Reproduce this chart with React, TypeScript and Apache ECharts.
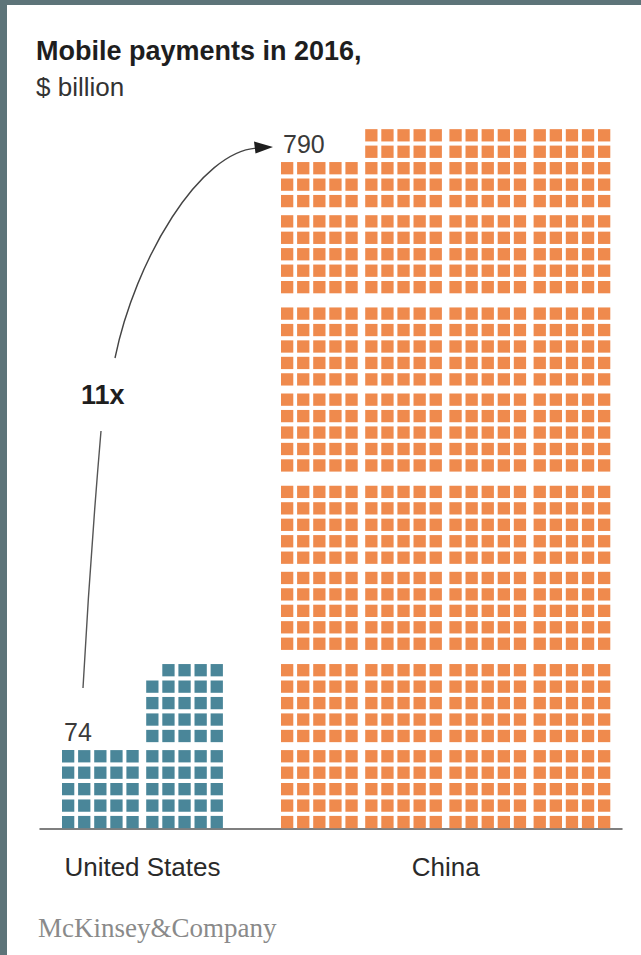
import React, { useEffect, useRef } from "react";
import * as echarts from "echarts";

// ---- data ----
const categories = ["United States", "China"];
const totals = [74, 790];
// units ($ billion) drawn in each 5-wide column of squares, per category
const usColumns = [25, 49];
const chinaColumns = [190, 200, 200, 200];
const columnsByCategory = [usColumns, chinaColumns];
const categoryColors = ["#4A8699", "#EF8A4D"];
const ratioText = "11x";
const titleText = "Mobile payments in 2016,";
const subtitleText = "$ billion";
const sourceText = "McKinsey&Company";

// ---- layout (axis units = px) ----
const CELL = 12.3;
const PX = 16.1;
const PY = 16.45;
const COL_PITCH = 84.2;
const CAT_GAP = 50.6;
const FIRST_START = 22;
const SMALL_GAP = 3.8;
const BIG_GAP = 10;
const FONT = "'Liberation Sans', Arial, Helvetica, sans-serif";

function rowY(r: number) {
  const block = Math.floor(r / 5);
  let extra = 0;
  for (let b = 1; b <= block; b++) extra += b % 2 === 1 ? SMALL_GAP : BIG_GAP;
  return r * PY + extra;
}

function categoryStarts() {
  const starts: number[] = [];
  let x = FIRST_START;
  columnsByCategory.forEach((cols) => {
    starts.push(x);
    x += cols.length * COL_PITCH + CAT_GAP;
  });
  return starts;
}

function buildCells() {
  const starts = categoryStarts();
  const cells: number[][] = [];
  columnsByCategory.forEach((cols, ci) => {
    cols.forEach((n, j) => {
      const x0 = starts[ci] + j * COL_PITCH;
      const full = Math.floor(n / 5);
      const rem = n % 5;
      for (let r = 0; r < full; r++)
        for (let c = 0; c < 5; c++) cells.push([x0 + c * PX, rowY(r), ci]);
      for (let c = 5 - rem; c < 5 && rem > 0; c++) cells.push([x0 + c * PX, rowY(full), ci]);
    });
  });
  return cells;
}

function buildValueLabels() {
  const starts = categoryStarts();
  return columnsByCategory.map((cols, ci) => {
    const n = cols[0];
    const rows = Math.ceil(n / 5);
    return [starts[ci], rowY(rows - 1) + CELL, ci];
  });
}

function buildCategoryLabels() {
  const starts = categoryStarts();
  return columnsByCategory.map((cols, ci) => {
    const width = (cols.length - 1) * COL_PITCH + 4 * PX + CELL;
    return [starts[ci] + width / 2, 0, ci];
  });
}

export default function App() {
  const ref = useRef<HTMLDivElement>(null);
  useEffect(() => {
    if (!ref.current) return;
    const chart = echarts.init(ref.current, undefined, { renderer: "svg" });
    const option: any = {
      animation: false,
      backgroundColor: "#ffffff",
      title: [
        {
          text: titleText,
          subtext: subtitleText,
          left: 36,
          top: 37,
          padding: 0,
          itemGap: 10,
          textStyle: { fontFamily: FONT, fontSize: 27, fontWeight: "bold", color: "#1e1e1e" },
          subtextStyle: { fontFamily: FONT, fontSize: 26, color: "#333333" },
        },
        {
          text: sourceText,
          left: 38,
          top: 914,
          padding: 0,
          textStyle: {
            fontFamily: "'Liberation Serif', 'DejaVu Serif', serif",
            fontSize: 27,
            fontWeight: "normal",
            color: "#8a8a8a",
          },
        },
      ],
      grid: { left: 40, right: 19, top: 100, bottom: 126 },
      xAxis: {
        type: "value",
        min: 0,
        max: 582,
        axisLine: { show: true, onZero: false, lineStyle: { color: "#555", width: 1.5 } },
        axisTick: { show: false },
        axisLabel: { show: false },
        splitLine: { show: false },
      },
      yAxis: {
        type: "value",
        min: 0,
        max: 729,
        show: false,
        splitLine: { show: false },
      },
      series: [
        {
          type: "custom",
          name: "cells",
          data: buildCells(),
          clip: false,
          renderItem: (params: any, api: any) => {
            const x = api.value(0);
            const y = api.value(1);
            const ci = api.value(2);
            const p = api.coord([x, y + CELL + 0.8]);
            const s = api.size([CELL, CELL]);
            return {
              type: "rect",
              shape: { x: p[0], y: p[1], width: s[0], height: s[1] },
              style: { fill: categoryColors[ci] },
            };
          },
        },
        {
          type: "custom",
          name: "values",
          data: buildValueLabels(),
          clip: false,
          renderItem: (params: any, api: any) => {
            const ci = api.value(2);
            const p = api.coord([api.value(0), api.value(1)]);
            return {
              type: "text",
              style: {
                text: String(totals[ci]),
                x: p[0] + 2,
                y: p[1] - 6,
                verticalAlign: "bottom",
                align: "left",
                font: `25px ${FONT}`,
                fill: "#3a3a3a",
              },
            };
          },
        },
        {
          type: "custom",
          name: "categories",
          data: buildCategoryLabels(),
          clip: false,
          renderItem: (params: any, api: any) => {
            const ci = api.value(2);
            const p = api.coord([api.value(0), api.value(1)]);
            return {
              type: "text",
              style: {
                text: categories[ci],
                x: p[0],
                y: p[1] + 38,
                verticalAlign: "middle",
                align: "center",
                font: `26px ${FONT}`,
                fill: "#2a2a2a",
              },
            };
          },
        },
      ],
      graphic: [
        { type: "rect", shape: { x: 0, y: 0, width: 7, height: 955 }, style: { fill: "#5d7479" }, silent: true },
        { type: "rect", shape: { x: 0, y: 0, width: 641, height: 5 }, style: { fill: "#5d7479" }, silent: true },
        {
          type: "bezierCurve",
          shape: { x1: 83, y1: 688, x2: 101, y2: 431, cpx1: 90, cpy1: 560 },
          style: { stroke: "#555", lineWidth: 1.4, fill: null },
        },
        {
          type: "bezierCurve",
          shape: { x1: 115, y1: 358, x2: 258, y2: 148, cpx1: 135, cpy1: 260, cpx2: 200, cpy2: 150 },
          style: { stroke: "#444", lineWidth: 1.4, fill: null },
        },
        {
          type: "polygon",
          shape: { points: [[273, 147], [254, 141.5], [255.5, 153.5]] },
          style: { fill: "#1e1e1e" },
        },
        {
          type: "text",
          style: {
            text: ratioText,
            x: 81,
            y: 395,
            verticalAlign: "middle",
            font: `bold 27px ${FONT}`,
            fill: "#1e1e1e",
          },
        },
      ],
    };
    chart.setOption(option);
    return () => chart.dispose();
  }, []);
  return (
    <div
      ref={ref}
      style={{ position: "absolute", left: 0, top: 0, width: 641, height: 955, background: "#fff" }}
    />
  );
}
